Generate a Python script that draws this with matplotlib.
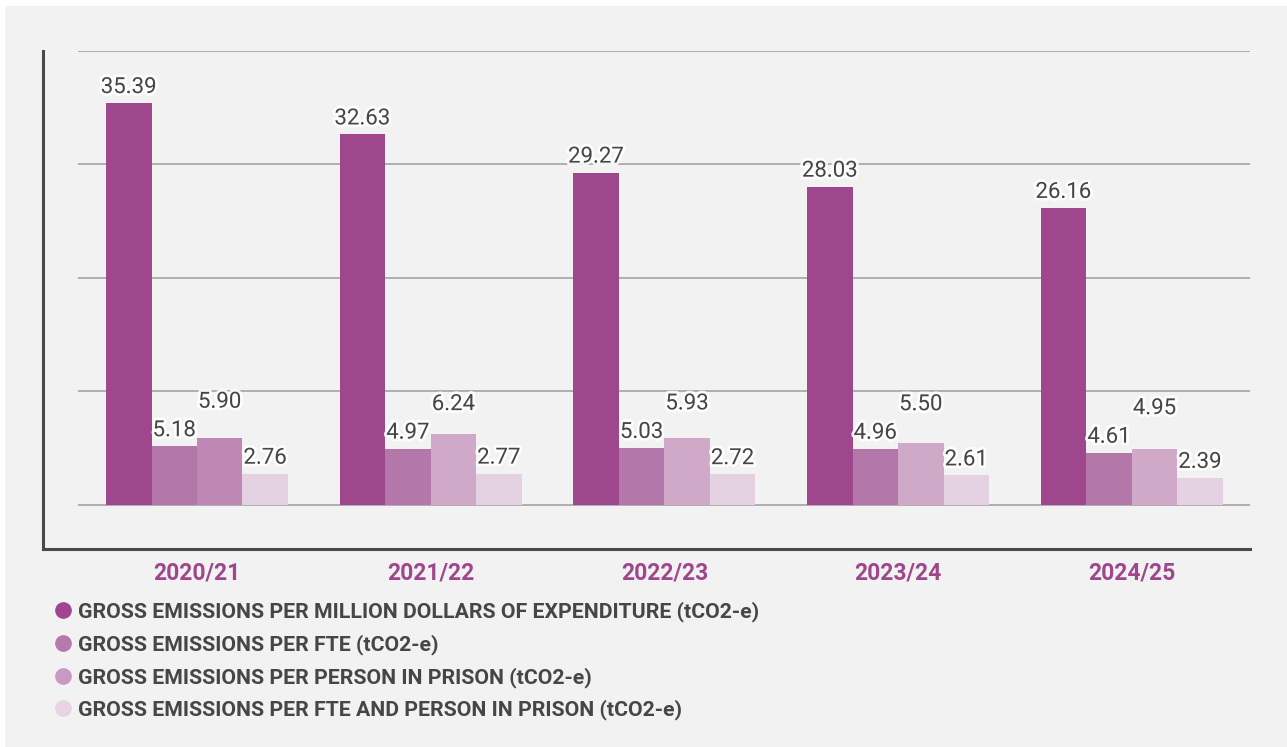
import matplotlib
matplotlib.use("Agg")
import matplotlib.pyplot as plt
import matplotlib.patheffects as pe
from matplotlib.lines import Line2D
from matplotlib.patches import Rectangle
import numpy as np

# ---- data ----
years = ["2020/21", "2021/22", "2022/23", "2023/24", "2024/25"]
per_million = [35.39, 32.63, 29.27, 28.03, 26.16]
per_fte = [5.18, 4.97, 5.03, 4.96, 4.61]
per_prisoner = [5.90, 6.24, 5.93, 5.50, 4.95]
per_fte_and_prisoner = [2.76, 2.77, 2.72, 2.61, 2.39]
series_names = [
    "GROSS EMISSIONS PER MILLION DOLLARS OF EXPENDITURE (tCO2-e)",
    "GROSS EMISSIONS PER FTE (tCO2-e)",
    "GROSS EMISSIONS PER PERSON IN PRISON (tCO2-e)",
    "GROSS EMISSIONS PER FTE AND PERSON IN PRISON (tCO2-e)",
]
grid_values = [0, 10, 20, 30, 40]

# ---- style ----
bar_colors = ["#9e478c", "#b378a9", "#d0a9c9", "#e4d2e2"]
legend_colors = ["#a0468e", "#b679ab", "#c999c1", "#e6d3e4"]
highlight = {(2, 0): "#be87b4"}   # (series, group) -> colour
text_color = "#464646"
year_color = "#9e478c"
font = "Roboto"

W, H, DPI = 1287, 747, 100
fig = plt.figure(figsize=(W / DPI, H / DPI), dpi=DPI, facecolor="white")
fig.patches.append(Rectangle((5 / W, 0), 1, (H - 6) / H, transform=fig.transFigure,
                             facecolor="#f2f2f2", edgecolor="none", zorder=-10))

ax = fig.add_axes([43 / W, 198 / H, (1250 - 43) / W, (696.3 - 198) / H])
ax.set_facecolor("none")
ax.set_xlim(-0.659, 4.506)
ax.set_ylim(-3.87, 40)

x = np.arange(len(years))
bw = 0.1947
series = [per_million, per_fte, per_prisoner, per_fte_and_prisoner]

# gridlines
for g in grid_values:
    ax.plot([-0.509, 4.506], [g, g], color="#a3a3a3", lw=1.2, zorder=1,
            solid_capstyle="butt")

halo = [pe.withStroke(linewidth=4, foreground=(1, 1, 1, 0.85))]
px = 72 / DPI
for si, vals in enumerate(series):
    xs = x + (si - 1.5) * bw
    cols = [highlight.get((si, gi), bar_colors[si]) for gi in range(len(years))]
    ax.bar(xs, vals, width=bw, color=cols, zorder=2, linewidth=0)
    for gi, (xx, v) in enumerate(zip(xs, vals)):
        base_y = v
        off = 10 * px
        if si == 2:
            prev = per_fte[gi]
            # avoid overlap with the label of the previous bar
            y_pix_default = v * 11.36 + 10
            y_pix_shift = prev * 11.36 + 38.5
            if y_pix_shift > y_pix_default:
                base_y = prev
                off = 38.5 * px
        ax.annotate(f"{v:.2f}", xy=(xx, base_y), xytext=(0, off),
                    textcoords="offset points", ha="center", va="baseline",
                    fontsize=16, color=text_color, family=font,
                    path_effects=halo, zorder=5)

# spines
for s in ["top", "right"]:
    ax.spines[s].set_visible(False)
for s in ["left", "bottom"]:
    ax.spines[s].set_color("#4a4a4a")
    ax.spines[s].set_linewidth(2.2)
ax.set_yticks([])
ax.set_xticks(x)
ax.set_xticklabels(years, fontsize=16.5, fontweight="bold", color=year_color,
                   family=font)
ax.tick_params(axis="x", length=0, pad=9)

# legend
row_y = [610, 643, 676, 708]
for name, col, ry in zip(series_names, legend_colors, row_y):
    fig.add_artist(Line2D([63 / W], [1 - ry / H], marker="o", markersize=11,
                          color=col, linestyle="none", transform=fig.transFigure))
    fig.text(78 / W, 1 - (ry + 7) / H, name, fontsize=15.3, fontweight="bold",
             color=text_color, family=font, va="baseline", ha="left")

fig.savefig("out.png", dpi=DPI, facecolor=fig.get_facecolor())
